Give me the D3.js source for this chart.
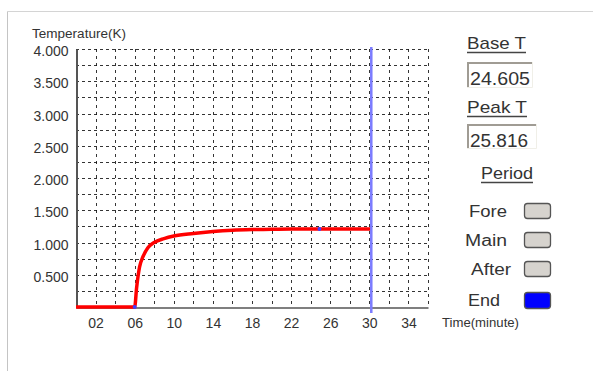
<!DOCTYPE html>
<html><head><meta charset="utf-8">
<script src="https://cdn.jsdelivr.net/npm/d3@7"></script>
<style>body{margin:0;background:#fff;}svg{display:block;font-family:"Liberation Sans",Arial,sans-serif;}</style>
</head><body><svg id="c" width="593" height="371"></svg>
<script>
const timeMin = [0, 2, 4, 6, 6.2, 6.5, 6.85, 7.35, 8, 9, 10, 12, 14, 16, 18, 20, 22, 24, 26, 28, 30.2];
const tempK   = [0, 0, 0, 0, 0.3, 0.62, 0.78, 0.92, 1.0, 1.06, 1.1, 1.14, 1.17, 1.19, 1.2, 1.205, 1.21, 1.21, 1.21, 1.21, 1.21];
const xTicks = [2, 6, 10, 14, 18, 22, 26, 30, 34];
const xTickLabels = ["02", "06", "10", "14", "18", "22", "26", "30", "34"];
const yTicks = [0.5, 1, 1.5, 2, 2.5, 3, 3.5, 4];
const endTime = 30.2;
const markerPoints = [[6, 0], [24.9, 1.21]];
const baseT = "24.605", peakT = "25.816";
const periodLabels = ["Fore", "Main", "After", "End"];
const periodColors = ["#d6d3ce", "#d6d3ce", "#d6d3ce", "#0000ff"];

const svg = d3.select("#c");
const L = 76, R = 428, T = 49, B = 307;
const x = d3.scaleLinear().domain([0, 36]).range([L, R]);
const y = d3.scaleLinear().domain([0, 4]).range([B, T]);

// frame lines
svg.append("line").attr("x1",7.5).attr("x2",593).attr("y1",11.5).attr("y2",11.5).attr("stroke","#d4d4d4");
svg.append("line").attr("x1",7.5).attr("x2",7.5).attr("y1",11.5).attr("y2",371).attr("stroke","#c4c4c4");

// grid
const g = svg.append("g");
d3.range(0.25, 4.01, 0.25).forEach(v => {
  g.append("line").attr("x1",L).attr("x2",R).attr("y1",Math.round(y(v))+0.5).attr("y2",Math.round(y(v))+0.5)
   .attr("stroke","#111").attr("stroke-opacity",0.85).attr("stroke-dasharray","3,3");
});
d3.range(2, 36.01, 2).forEach(v => {
  g.append("line").attr("x1",Math.round(x(v))+0.5).attr("x2",Math.round(x(v))+0.5).attr("y1",T).attr("y2",B)
   .attr("stroke","#111").attr("stroke-opacity",0.85).attr("stroke-dasharray","3,4");
});

// axes
const xa = svg.append("g").attr("transform",`translate(0,${B+0.5})`)
  .call(d3.axisBottom(x).tickValues(xTicks).tickFormat((d,i)=>xTickLabels[i]).tickSize(0).tickPadding(11));
xa.select(".domain").attr("stroke","#555").attr("stroke-width",1.5);
xa.selectAll("text").attr("font-size",14).attr("fill","#333").attr("font-family","Liberation Sans, Arial");
const ya = svg.append("g").attr("transform",`translate(${L+0.5},0)`)
  .call(d3.axisLeft(y).tickValues(yTicks).tickFormat(d3.format(".3f")).tickSize(0).tickPadding(8));
ya.select(".domain").attr("stroke","#555").attr("stroke-width",2);
ya.selectAll("text").attr("font-size",14).attr("dy","0.48em").attr("fill","#333").attr("font-family","Liberation Sans, Arial");

svg.append("text").attr("x",32).attr("y",37.5).attr("font-size",12.5).attr("fill","#333")
  .attr("textLength",94).attr("lengthAdjust","spacingAndGlyphs").text("Temperature(K)");
svg.append("text").attr("x",442).attr("y",327).attr("font-size",13).attr("fill","#333")
  .attr("textLength",77).attr("lengthAdjust","spacingAndGlyphs").text("Time(minute)");

// curve
svg.append("path").datum(timeMin.map((t,i)=>[t,tempK[i]]))
  .attr("d", d3.line().x(d=>x(d[0])).y(d=>y(d[1])).curve(d3.curveMonotoneX))
  .attr("fill","none").attr("stroke","#ff0000").attr("stroke-width",3.5);

// end line
svg.append("line").attr("x1",x(endTime)).attr("x2",x(endTime)).attr("y1",T-2).attr("y2",B+6)
  .attr("stroke","#7b7bff").attr("stroke-width",2.5);
markerPoints.forEach(p=>{
  svg.append("circle").attr("cx",x(p[0])).attr("cy",y(p[1])).attr("r",2).attr("fill","#4040ff");
});

// right panel
function txt(tx, ty, s, w, fs){
  return svg.append("text").attr("x",tx).attr("y",ty).attr("font-size",fs||17).attr("fill","#333")
    .attr("textLength",w).attr("lengthAdjust","spacingAndGlyphs").text(s);
}
function uText(tx, ty, s, w){
  txt(tx, ty, s, w);
  svg.append("line").attr("x1",tx).attr("x2",tx+w).attr("y1",ty+3.5).attr("y2",ty+3.5).attr("stroke","#444").attr("stroke-width",1.3);
}
function box(bx, by, w, h, s, tw){
  svg.append("rect").attr("x",bx).attr("y",by).attr("width",w).attr("height",h).attr("fill","#fff");
  svg.append("path").attr("d",`M${bx+1},${by+h} V${by+1} H${bx+w}`).attr("stroke","#a09c94").attr("stroke-width",2).attr("fill","none");
  svg.append("path").attr("d",`M${bx},${by+h-0.5} H${bx+w-0.5} V${by}`).attr("stroke","#f0efe8").attr("stroke-width",1).attr("fill","none");
  txt(bx+3, by+23, s, tw, 18);
}
uText(467, 49, "Base T", 59);
box(467, 62, 66, 26, baseT, 60);
uText(467, 113, "Peak T", 60);
box(467, 124, 70, 25, peakT, 58);
uText(481, 179, "Period", 52);
const pyBase = [217, 246, 275, 306];
const pw = [38, 42, 40, 32];
const px = [469, 465, 471, 468];
const boxY = [203, 232, 261, 292];
const boxH = [15, 15, 15, 16];
periodLabels.forEach((lab,i)=>{
  txt(px[i], pyBase[i], lab, pw[i], 16);
  svg.append("rect").attr("x",524.5).attr("y",boxY[i]+0.5).attr("width",26).attr("height",boxH[i]).attr("rx",3)
    .attr("fill",periodColors[i]).attr("stroke","#555").attr("stroke-width",1.3);
});
</script></body></html>
